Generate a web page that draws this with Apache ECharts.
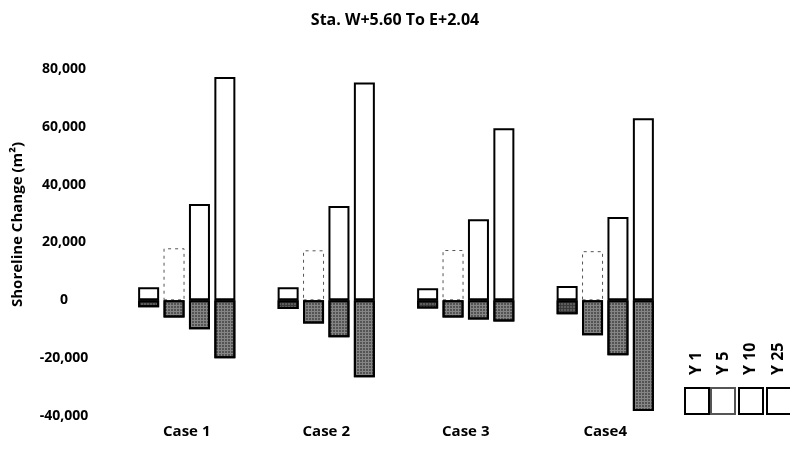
<!DOCTYPE html>
<html><head><meta charset="utf-8">
<script src="https://cdn.jsdelivr.net/npm/echarts@6/dist/echarts.min.js"></script>
<style>html,body{margin:0;padding:0;background:#fff}#c{width:790px;height:449px}</style>
</head><body><div id="c"></div>
<script>
const categories = ['Case 1', 'Case 2', 'Case 3', 'Case4'];
const seriesNames = ['Y 1', 'Y 5', 'Y 10', 'Y 25'];
const y1Gain = [4500, 4500, 4150, 4950];
const y1Loss = [-2400, -3000, -2800, -4800];
const y5Gain = [18000, 17300, 17400, 17000];
const y5Loss = [-5900, -8000, -5900, -12100];
const y10Gain = [33300, 32600, 28000, 28800];
const y10Loss = [-10000, -12800, -6600, -19000];
const y25Gain = [77200, 75300, 59500, 63000];
const y25Loss = [-20000, -26600, -7300, -38300];
const yMin = -40000, yMax = 80000, yStep = 20000;

const FONT = '"Open Sans", sans-serif';
const gains = [y1Gain, y5Gain, y10Gain, y25Gain];
const losses = [y1Loss, y5Loss, y10Loss, y25Loss];

const gainStyle = (i) => ({
  color: '#ffffff',
  borderColor: i === 1 ? '#555' : '#000',
  borderWidth: i === 1 ? 1 : 2,
  borderType: i === 1 ? [3, 4] : 'solid'
});
const lossStyle = (i) => ({
  color: i === 0 ? '#3a3a3a' : '#858585',
  borderColor: '#000',
  borderWidth: 2,
  decal: { symbol: 'rect', symbolSize: 0.7, color: i === 0 ? 'rgba(255,255,255,0.35)' : 'rgba(0,0,0,0.7)', dashArrayX: [2, 1], dashArrayY: [2, 1] }
});

const series = [];
seriesNames.forEach((n, i) => {
  series.push({ name: n, type: 'bar', stack: 's' + i, data: gains[i], barWidth: 21, barGap: '21%', itemStyle: gainStyle(i), emphasis: { disabled: true } });
});
seriesNames.forEach((n, i) => {
  series.push({ name: n, type: 'bar', stack: 's' + i, data: losses[i], barWidth: 21, barGap: '21%', itemStyle: lossStyle(i), emphasis: { disabled: true } });
});

const legendBoxX = [684, 710, 738, 766];
const legendLabelX = [696, 723, 750, 778];
const chart = echarts.init(document.getElementById('c'));
chart.setOption({
  animation: false,
  backgroundColor: '#fff',
  title: { text: 'Sta. W+5.60 To E+2.04', left: 'center', top: 7, textStyle: { fontFamily: FONT, fontSize: 16, fontWeight: 'bold', color: '#000' } },
  grid: { left: 117, right: 115, top: 69, bottom: 33 },
  legend: seriesNames.map((n, i) => ({
    data: [n], left: legendBoxX[i], top: 387, itemWidth: 24, itemHeight: 26, padding: 0,
    icon: 'rect', formatter: () => '', selectedMode: false
  })),
  xAxis: {
    type: 'category', data: categories,
    axisLine: { show: false }, axisTick: { show: false },
    axisLabel: { margin: 8, fontFamily: FONT, fontSize: 15, fontWeight: 'bold', color: '#000' }
  },
  yAxis: {
    type: 'value', min: yMin, max: yMax, interval: yStep,
    splitLine: { show: false }, axisLine: { show: false }, axisTick: { show: false },
    axisLabel: { align: 'center', margin: 53, fontFamily: FONT, fontSize: 14, fontWeight: 'bold', color: '#000',
      formatter: v => v.toLocaleString('en-US') },
    name: 'Shoreline Change (m²)', nameLocation: 'middle', nameGap: 92,
    nameTextStyle: { fontFamily: FONT, fontSize: 15, fontWeight: 'bold', color: '#000', padding: [0, 0, 0, 36] }
  },
  graphic: seriesNames.map((n, i) => ({
    type: 'text', x: legendLabelX[i], y: 375, rotation: Math.PI / 2,
    style: { text: n, fontFamily: FONT, fontSize: 16, fontWeight: 'bold', fill: '#000', align: 'left', verticalAlign: 'middle' }
  })),
  series
});
</script></body></html>
